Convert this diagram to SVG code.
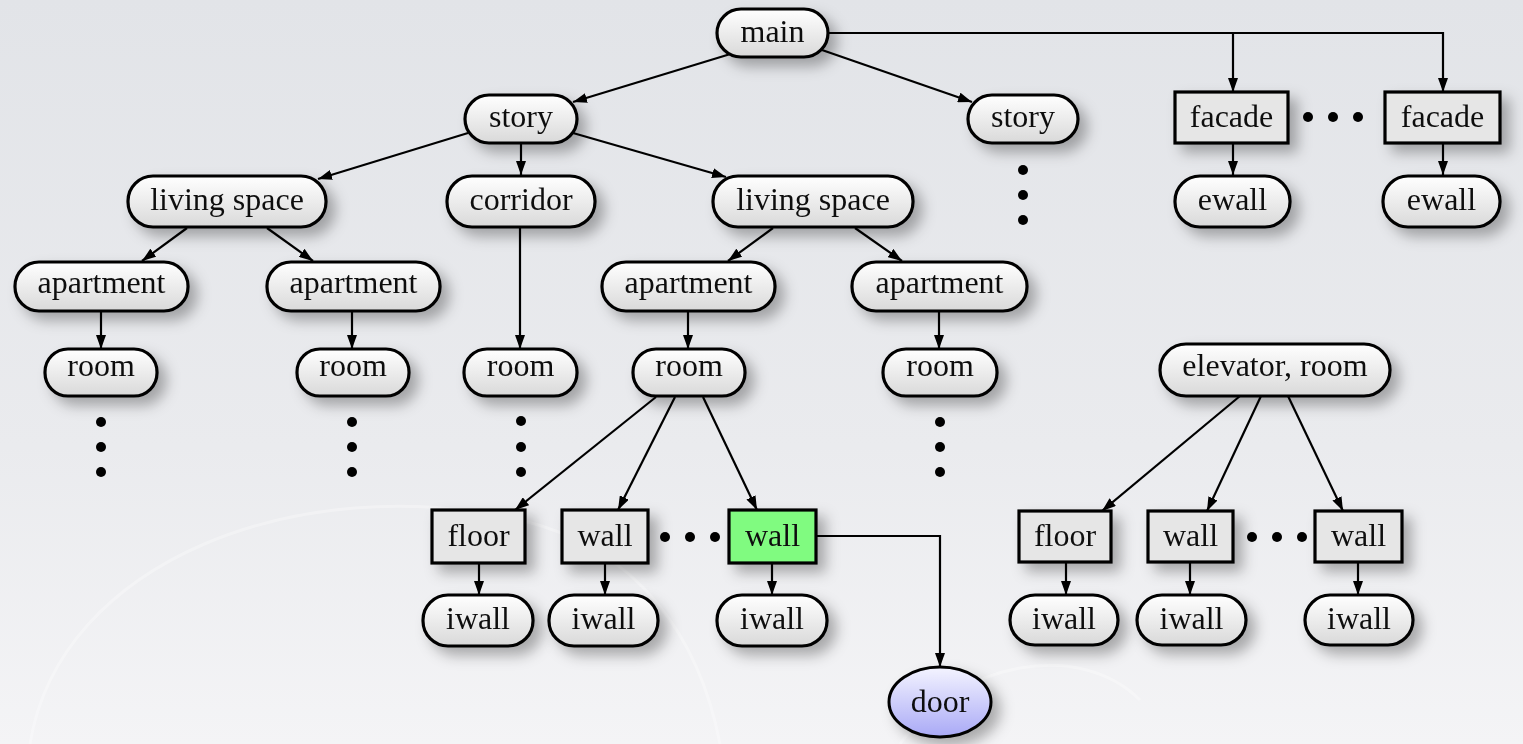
<svg xmlns="http://www.w3.org/2000/svg" width="1523" height="744" viewBox="0 0 1523 744">
<defs>
<linearGradient id="bg" x1="0" y1="0" x2="0" y2="1">
<stop offset="0" stop-color="#e2e4e8"/>
<stop offset="0.6" stop-color="#eaebee"/>
<stop offset="1" stop-color="#f4f4f6"/>
</linearGradient>
<linearGradient id="pill" x1="0" y1="0" x2="0" y2="1">
<stop offset="0" stop-color="#ffffff"/>
<stop offset="1" stop-color="#d9d9d9"/>
</linearGradient>
<linearGradient id="doorg" x1="0" y1="0" x2="0" y2="1">
<stop offset="0" stop-color="#f4f4ff"/>
<stop offset="1" stop-color="#a9a9f6"/>
</linearGradient>
<filter id="sh" x="-30%" y="-40%" width="170%" height="220%">
<feDropShadow dx="8" dy="8" stdDeviation="7" flood-color="#000" flood-opacity="0.3"/>
</filter>
<marker id="arr" viewBox="0 0 14 10" refX="14" refY="5" markerWidth="14" markerHeight="10" markerUnits="userSpaceOnUse" orient="auto">
<path d="M0,0 L14,5 L0,10 z" fill="#000"/>
</marker>
</defs>
<style>
.p{fill:url(#pill);stroke:#000;stroke-width:3.2}
.r{fill:#e6e6e6;stroke:#000;stroke-width:3.2}
.g{fill:#80fb80;stroke:#000;stroke-width:3.2}
.t{font-family:"Liberation Serif","Times New Roman",serif;font-size:32px;fill:#111;text-anchor:middle}
.e{fill:none;stroke:#000;stroke-width:2.2;marker-end:url(#arr)}
.n{filter:url(#sh)}
.d{fill:#000}
</style>
<rect x="0" y="0" width="1523" height="744" fill="url(#bg)"/>
<g fill="none" stroke="#ffffff" stroke-opacity="0.3" stroke-width="3">
<path d="M30,744 C60,560 300,470 520,520 C640,548 700,640 720,744"/>
<path d="M900,744 C960,660 1080,640 1140,700"/>
</g>

<g id="connectors">
<line class="e" x1="737" y1="52" x2="573" y2="102"/>
<line class="e" x1="822" y1="50" x2="972" y2="102"/>
<path class="e" d="M828,33 H1443 V92"/>
<path class="e" d="M1233,33 V92"/>
<line class="e" x1="468" y1="133" x2="318" y2="179"/>
<line class="e" x1="521" y1="143" x2="521" y2="175"/>
<line class="e" x1="573" y1="133" x2="726" y2="177"/>
<line class="e" x1="187" y1="228" x2="142" y2="261"/>
<line class="e" x1="267" y1="228" x2="313" y2="261"/>
<line class="e" x1="773" y1="228" x2="728" y2="261"/>
<line class="e" x1="855" y1="228" x2="902" y2="261"/>
<line class="e" x1="101" y1="311" x2="101" y2="349"/>
<line class="e" x1="352" y1="311" x2="352" y2="349"/>
<line class="e" x1="688" y1="311" x2="688" y2="349"/>
<line class="e" x1="939" y1="311" x2="939" y2="349"/>
<line class="e" x1="520" y1="227" x2="520" y2="349"/>
<line class="e" x1="656" y1="397" x2="515" y2="510"/>
<line class="e" x1="675" y1="397" x2="618" y2="510"/>
<line class="e" x1="703" y1="397" x2="757" y2="510"/>
<line class="e" x1="1240" y1="396" x2="1102" y2="511"/>
<line class="e" x1="1261" y1="396" x2="1207" y2="511"/>
<line class="e" x1="1288" y1="396" x2="1343" y2="511"/>
<line class="e" x1="479" y1="563" x2="479" y2="595"/>
<line class="e" x1="605" y1="563" x2="605" y2="595"/>
<line class="e" x1="772" y1="563" x2="772" y2="595"/>
<line class="e" x1="1066" y1="562" x2="1066" y2="595"/>
<line class="e" x1="1190" y1="562" x2="1190" y2="595"/>
<line class="e" x1="1358" y1="562" x2="1358" y2="595"/>
<line class="e" x1="1233" y1="143" x2="1233" y2="175"/>
<line class="e" x1="1443" y1="143" x2="1443" y2="175"/>
<path class="e" d="M816,536 H940 V667"/>
</g>

<g id="dots">
<circle class="d" cx="1023" cy="170" r="5"/><circle class="d" cx="1023" cy="195" r="5"/><circle class="d" cx="1023" cy="220" r="5"/>
<circle class="d" cx="101" cy="422" r="5"/><circle class="d" cx="101" cy="447" r="5"/><circle class="d" cx="101" cy="472" r="5"/>
<circle class="d" cx="352" cy="422" r="5"/><circle class="d" cx="352" cy="447" r="5"/><circle class="d" cx="352" cy="472" r="5"/>
<circle class="d" cx="521" cy="421" r="5"/><circle class="d" cx="521" cy="447" r="5"/><circle class="d" cx="521" cy="472" r="5"/>
<circle class="d" cx="940" cy="422" r="5"/><circle class="d" cx="940" cy="447" r="5"/><circle class="d" cx="940" cy="472" r="5"/>
<circle class="d" cx="1308" cy="117" r="5"/><circle class="d" cx="1333" cy="117" r="5"/><circle class="d" cx="1358" cy="117" r="5"/>
<circle class="d" cx="665" cy="537" r="5"/><circle class="d" cx="690" cy="537" r="5"/><circle class="d" cx="715" cy="537" r="5"/>
<circle class="d" cx="1252" cy="537" r="5"/><circle class="d" cx="1277" cy="537" r="5"/><circle class="d" cx="1302" cy="537" r="5"/>
</g>

<g id="main" class="n"><rect class="p" x="717" y="9" width="111" height="48" rx="24"/><text class="t" x="772.5" y="42">main</text></g>
<g id="story1" class="n"><rect class="p" x="465" y="95" width="112" height="48" rx="24"/><text class="t" x="521" y="127">story</text></g>
<g id="story2" class="n"><rect class="p" x="968" y="95" width="110" height="48" rx="24"/><text class="t" x="1023" y="127">story</text></g>
<g id="facade1" class="n"><rect class="r" x="1175" y="92" width="113" height="51"/><text class="t" x="1231.5" y="127">facade</text></g>
<g id="facade2" class="n"><rect class="r" x="1385" y="92" width="115" height="51"/><text class="t" x="1442.5" y="127">facade</text></g>
<g id="livsp1" class="n"><rect class="p" x="128" y="176" width="198" height="51" rx="25"/><text class="t" x="227" y="210">living space</text></g>
<g id="corridor" class="n"><rect class="p" x="447" y="176" width="148" height="51" rx="25"/><text class="t" x="521" y="210">corridor</text></g>
<g id="livsp2" class="n"><rect class="p" x="713" y="176" width="200" height="51" rx="25"/><text class="t" x="813" y="210">living space</text></g>
<g id="ewall1" class="n"><rect class="p" x="1175" y="176" width="115" height="51" rx="25"/><text class="t" x="1232.5" y="210">ewall</text></g>
<g id="ewall2" class="n"><rect class="p" x="1383" y="176" width="117" height="51" rx="25"/><text class="t" x="1441.5" y="210">ewall</text></g>
<g id="apt1" class="n"><rect class="p" x="15" y="262" width="173" height="49" rx="24"/><text class="t" x="101.5" y="293">apartment</text></g>
<g id="apt2" class="n"><rect class="p" x="267" y="262" width="173" height="49" rx="24"/><text class="t" x="353.5" y="293">apartment</text></g>
<g id="apt3" class="n"><rect class="p" x="602" y="262" width="173" height="49" rx="24"/><text class="t" x="688.5" y="293">apartment</text></g>
<g id="apt4" class="n"><rect class="p" x="852" y="262" width="175" height="49" rx="24"/><text class="t" x="939.5" y="293">apartment</text></g>
<g id="room1" class="n"><rect class="p" x="45" y="349" width="112" height="47" rx="23"/><text class="t" x="101" y="376">room</text></g>
<g id="room2" class="n"><rect class="p" x="297" y="349" width="112" height="47" rx="23"/><text class="t" x="353" y="376">room</text></g>
<g id="room3" class="n"><rect class="p" x="464" y="349" width="113" height="47" rx="23"/><text class="t" x="520.5" y="376">room</text></g>
<g id="room4" class="n"><rect class="p" x="633" y="349" width="112" height="47" rx="23"/><text class="t" x="689" y="376">room</text></g>
<g id="room5" class="n"><rect class="p" x="883" y="349" width="114" height="47" rx="23"/><text class="t" x="940" y="376">room</text></g>
<g id="elevator" class="n"><rect class="p" x="1160" y="344" width="230" height="52" rx="26"/><text class="t" x="1275" y="376">elevator, room</text></g>
<g id="floor1" class="n"><rect class="r" x="432" y="510" width="93" height="53"/><text class="t" x="478.5" y="546">floor</text></g>
<g id="wall1" class="n"><rect class="r" x="562" y="510" width="86" height="53"/><text class="t" x="605" y="546">wall</text></g>
<g id="wallG" class="n"><rect class="g" x="729" y="510" width="87" height="53"/><text class="t" x="772.5" y="546">wall</text></g>
<g id="floor2" class="n"><rect class="r" x="1019" y="511" width="92" height="51"/><text class="t" x="1065" y="546">floor</text></g>
<g id="wall2" class="n"><rect class="r" x="1148" y="511" width="85" height="51"/><text class="t" x="1190.5" y="546">wall</text></g>
<g id="wall3" class="n"><rect class="r" x="1315" y="511" width="87" height="51"/><text class="t" x="1358.5" y="546">wall</text></g>
<g id="iwall1" class="n"><rect class="p" x="423" y="595" width="110" height="51" rx="25"/><text class="t" x="478" y="629">iwall</text></g>
<g id="iwall2" class="n"><rect class="p" x="549" y="595" width="109" height="51" rx="25"/><text class="t" x="603.5" y="629">iwall</text></g>
<g id="iwall3" class="n"><rect class="p" x="717" y="595" width="110" height="51" rx="25"/><text class="t" x="772" y="629">iwall</text></g>
<g id="iwall4" class="n"><rect class="p" x="1010" y="595" width="108" height="50" rx="25"/><text class="t" x="1064" y="629">iwall</text></g>
<g id="iwall5" class="n"><rect class="p" x="1137" y="595" width="109" height="50" rx="25"/><text class="t" x="1191.5" y="629">iwall</text></g>
<g id="iwall6" class="n"><rect class="p" x="1305" y="595" width="108" height="50" rx="25"/><text class="t" x="1359" y="629">iwall</text></g>
<g id="door" class="n"><ellipse cx="940" cy="702" rx="51" ry="35" fill="url(#doorg)" stroke="#000" stroke-width="3"/><text class="t" x="940" y="712">door</text></g>
</svg>
